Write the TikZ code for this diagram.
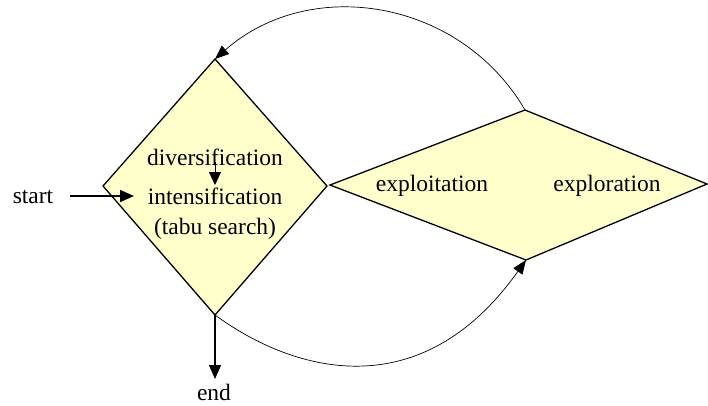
\documentclass[tikz,border=0pt]{standalone}
\usepackage{fontspec}
\setmainfont{Liberation Serif}
\usetikzlibrary{arrows.meta}
\definecolor{paleyellow}{HTML}{FFFFCC}
\begin{document}
\begin{tikzpicture}[x=1pt,y=-1pt,
  shapebox/.style={draw=black,fill=paleyellow,line width=1.3pt,line join=miter},
  label/.style={inner sep=0pt,anchor=base,font=\fontsize{23.5}{28}\selectfont},
  thickarrow/.style={line width=1.4pt,-{Triangle[length=14pt,width=12pt]}},
  thinarrow/.style={line width=0.7pt,-{Triangle[length=14pt,width=11pt]}}]
\useasboundingbox (0,0) rectangle (708,405);
% left diamond vertices
\coordinate (Ltop) at (215,59);
\coordinate (Lright) at (327,186);
\coordinate (Lbot) at (215,315);
\coordinate (Lleft) at (103,186);
% right diamond vertices
\coordinate (Rleft) at (330,185);
\coordinate (Rtop) at (525,110);
\coordinate (Rright) at (707,184);
\coordinate (Rbot) at (526,260);
\draw[shapebox] (Ltop) -- (Lright) -- (Lbot) -- (Lleft) -- cycle;
\draw[shapebox] (Rleft) -- (Rtop) -- (Rright) -- (Rbot) -- cycle;
% texts
\node[label] (div) at (215,165) {diversification};
\node[label] (int) at (215,204) {intensification};
\node[label] (tabu) at (215,234) {(tabu search)};
\node[label] (expt) at (432,191) {exploitation};
\node[label] (expr) at (607,191) {exploration};
\node[label] (start) at (33,203) {start};
\node[label] (end) at (214,400) {end};
% connector ends
\coordinate (startA) at (70,196);
\coordinate (startB) at (134,196);
\coordinate (divA) at (215,162);
\coordinate (divB) at (215,185);
\coordinate (endB) at (215,379);
% arrows
\draw[thickarrow] (startA) -- (startB);
\draw[line width=1pt,-{Triangle[length=13pt,width=12pt]}] (divA) -- (divB);
\draw[thickarrow] (Lbot) -- (endB);
\draw[thinarrow] (Rtop) .. controls (460.6,-0.6) and (310.7,-25) .. (Ltop);
\draw[thinarrow] (Lbot) .. controls (293,372) and (420,409) .. (Rbot);
\end{tikzpicture}
\end{document}
